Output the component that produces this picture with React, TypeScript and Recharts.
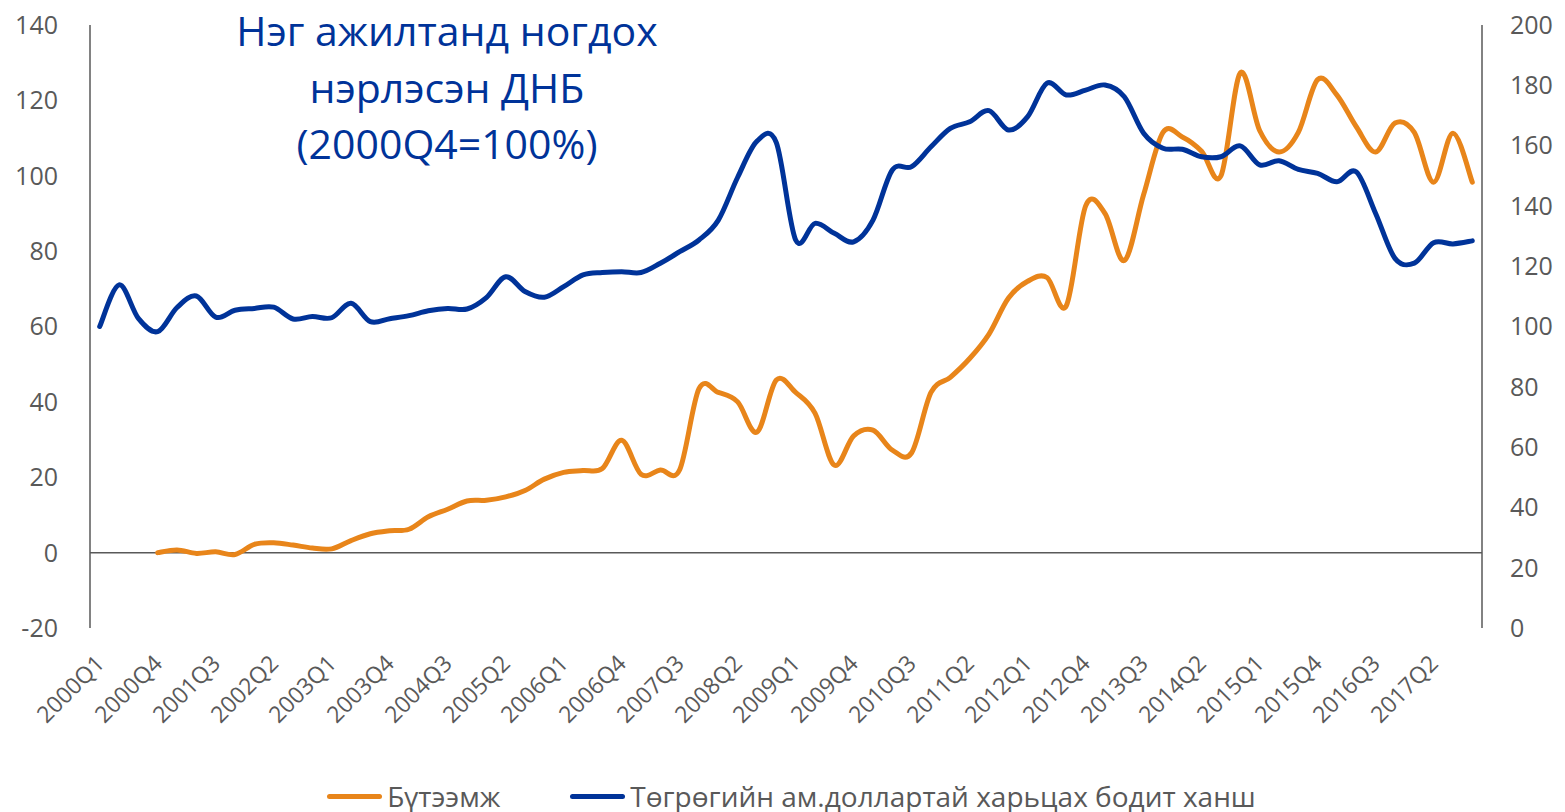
import React from 'react';
import { LineChart, Line, XAxis, YAxis, ReferenceLine, Legend, Customized } from 'recharts';

const quarters = [
  '2000Q1','2000Q2','2000Q3','2000Q4','2001Q1','2001Q2','2001Q3','2001Q4',
  '2002Q1','2002Q2','2002Q3','2002Q4','2003Q1','2003Q2','2003Q3','2003Q4',
  '2004Q1','2004Q2','2004Q3','2004Q4','2005Q1','2005Q2','2005Q3','2005Q4',
  '2006Q1','2006Q2','2006Q3','2006Q4','2007Q1','2007Q2','2007Q3','2007Q4',
  '2008Q1','2008Q2','2008Q3','2008Q4','2009Q1','2009Q2','2009Q3','2009Q4',
  '2010Q1','2010Q2','2010Q3','2010Q4','2011Q1','2011Q2','2011Q3','2011Q4',
  '2012Q1','2012Q2','2012Q3','2012Q4','2013Q1','2013Q2','2013Q3','2013Q4',
  '2014Q1','2014Q2','2014Q3','2014Q4','2015Q1','2015Q2','2015Q3','2015Q4',
  '2016Q1','2016Q2','2016Q3','2016Q4','2017Q1','2017Q2','2017Q3','2017Q4',
];

// Бүтээмж (left axis)
const productivity: (number | null)[] = [
  null, null, null, 0, 0.7, -0.2, 0.2, -0.5,
  2.2, 2.6, 2.0, 1.2, 1.0, 3.2, 5.0, 5.8,
  6.2, 9.5, 11.5, 13.7, 13.9, 14.8, 16.5, 19.5,
  21.3, 21.8, 22.3, 29.8, 20.8, 21.9, 22, 43.5,
  42.5, 40, 32, 45.8, 42.5, 37, 23.2, 31,
  32.5, 27.2, 26.5, 42.5, 46.5, 51.5, 58, 67.5,
  72, 73, 65.5, 92, 90, 77.5, 95, 111.5,
  110.3, 106.5, 100, 127.3, 112, 106.3, 111.5, 125.5,
  121.4, 113, 106.3, 114, 111.5, 98.3, 111.3, 98.3,
];

// Төгрөгийн ам.доллартай харьцах бодит ханш (right axis)
const realRate: number[] = [
  100, 113.8, 102.7, 98.3, 106.3, 110.1, 103.1, 105.4,
  106, 106.4, 102.5, 103.3, 102.9, 107.7, 101.6, 102.6,
  103.6, 105.2, 106, 105.8, 109.6, 116.5, 111.6, 109.7,
  113.2, 117.1, 117.9, 118.2, 117.9, 121, 124.8, 128.7,
  135.3, 149.5, 161.5, 161, 128.7, 134.2, 130.9, 128.1,
  135.3, 151.9, 153, 159.6, 165.7, 167.9, 171.6, 165.2,
  169.6, 180.7, 176.8, 178.4, 180.1, 176.2, 164.1, 159.1,
  158.8, 156.3, 156.3, 159.9, 153.6, 155, 152.1, 150.8,
  148, 151.3, 137.5, 122.6, 121, 127.8, 127.4, 128.4,
];

const leftTicks = [-20, 0, 20, 40, 60, 80, 100, 120, 140];
const rightTicks = [0, 20, 40, 60, 80, 100, 120, 140, 160, 180, 200];

const titleLines = ['Нэг ажилтанд ногдох', 'нэрлэсэн ДНБ', '(2000Q4=100%)'];
const seriesNames = ['Бүтээмж', 'Төгрөгийн ам.доллартай харьцах бодит ханш'];

const data = quarters.map((q, i) => ({ q, prod: productivity[i], rate: realRate[i] }));

const ORANGE = '#E8851A';
const BLUE = '#003399';
const GRAY = '#595959';
const FONT = '"Open Sans", sans-serif';

// Excel-like smoothing (Catmull-Rom as cubic Bezier)
function excelCurve(context: any) {
  let pts: [number, number][] = [];
  return {
    areaStart() {},
    areaEnd() {},
    lineStart() { pts = []; },
    lineEnd() {
      const n = pts.length;
      if (n === 0) return;
      context.moveTo(pts[0][0], pts[0][1]);
      if (n === 1) { context.lineTo(pts[0][0], pts[0][1]); return; }
      for (let i = 0; i < n - 1; i++) {
        const p0 = pts[i === 0 ? 0 : i - 1];
        const p1 = pts[i];
        const p2 = pts[i + 1];
        const p3 = pts[i + 2 < n ? i + 2 : n - 1];
        context.bezierCurveTo(
          p1[0] + (p2[0] - p0[0]) / 6, p1[1] + (p2[1] - p0[1]) / 6,
          p2[0] - (p3[0] - p1[0]) / 6, p2[1] - (p3[1] - p1[1]) / 6,
          p2[0], p2[1]
        );
      }
    },
    point(x: number, y: number) { pts.push([+x, +y]); },
  };
}

const XTick = (props: any) => {
  const { x, y, payload } = props;
  const ax = x + 6;
  const ay = y + 37;
  return (
    <text x={ax} y={ay} transform={`rotate(-45, ${ax}, ${ay})`} textAnchor="end"
      fill={GRAY} fontSize={23} fontFamily={FONT}>{payload.value}</text>
  );
};

const Title = () => (
  <g>
    {titleLines.map((t, i) => (
      <text key={i} x={447} y={46 + i * 56.5} textAnchor="middle" fill={BLUE}
        fontSize={41} fontFamily={FONT}>{t}</text>
    ))}
  </g>
);

const LegendContent = () => (
  <div style={{ display: 'flex', justifyContent: 'center', alignItems: 'center', width: 1565,
    fontFamily: FONT, fontSize: 28, color: GRAY, lineHeight: '38px', paddingLeft: 18, boxSizing: 'border-box' }}>
    {[ORANGE, BLUE].map((c, i) => (
      <div key={i} style={{ display: 'flex', alignItems: 'center', marginRight: i === 0 ? 70 : 0 }}>
        <div style={{ width: 55, height: 5, background: c, borderRadius: 3, marginRight: 5 }} />
        <span>{seriesNames[i]}</span>
      </div>
    ))}
  </div>
);

export default function App() {
  return (
    <div style={{ position: 'absolute', left: 0, top: 0, width: 1565, height: 812, background: '#fff' }}>
      <LineChart width={1565} height={812} data={data} margin={{ top: 25, right: 0, bottom: 0, left: 0 }}>
        <XAxis dataKey="q" interval={2} axisLine={false} tickLine={false} tickSize={0} tickMargin={0}
          height={184} tick={<XTick />} padding={{ left: 9.7, right: 9.7 }} />
        <YAxis yAxisId="left" domain={[-20, 140]} ticks={leftTicks} width={90} tickSize={0} tickMargin={32}
          axisLine={{ stroke: GRAY, strokeWidth: 1.5 }} tickLine={false}
          tick={{ fill: GRAY, fontSize: 25, fontFamily: FONT }} />
        <YAxis yAxisId="right" orientation="right" domain={[0, 200]} ticks={rightTicks} width={83}
          tickSize={0} tickMargin={28} axisLine={{ stroke: GRAY, strokeWidth: 1.5 }} tickLine={false}
          tick={{ fill: GRAY, fontSize: 25, fontFamily: FONT, textAnchor: 'start' }} />
        <ReferenceLine yAxisId="left" y={0} stroke={GRAY} strokeWidth={1.5} />
        <Line yAxisId="left" dataKey="prod" name={seriesNames[0]} stroke={ORANGE} strokeWidth={5}
          type={excelCurve as any} dot={false} isAnimationActive={false} strokeLinecap="round" />
        <Line yAxisId="right" dataKey="rate" name={seriesNames[1]} stroke={BLUE} strokeWidth={5}
          type={excelCurve as any} dot={false} isAnimationActive={false} strokeLinecap="round" />
        <Legend layout="horizontal" verticalAlign="middle" align="center" content={<LegendContent />}
          wrapperStyle={{ left: 0, top: 777, width: 1565 }} />
        <Customized component={<Title />} />
      </LineChart>
    </div>
  );
}
